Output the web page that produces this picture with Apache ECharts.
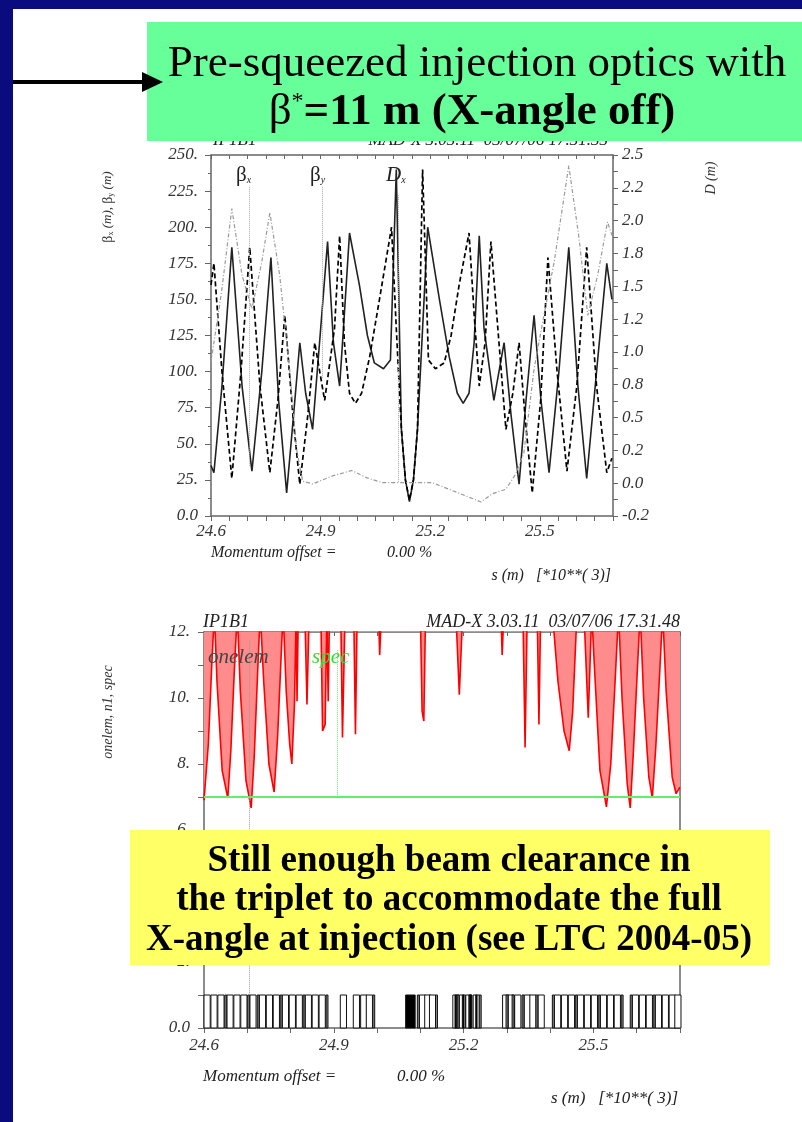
<!DOCTYPE html>
<html>
<head>
<meta charset="utf-8">
<script src="https://cdn.jsdelivr.net/npm/echarts@6/dist/echarts.min.js"></script>
<style>
html,body{margin:0;padding:0;background:#0b0b80;}
#panel{position:absolute;left:13px;top:9px;width:789px;height:1113px;background:#fff;}
#chart{position:absolute;left:0;top:0;width:802px;height:1122px;}
</style>
</head>
<body>
<div id="panel"></div>
<div id="chart"></div>
<script>
// top plot: beta functions (m) and dispersion (m) vs s (km)
var betxS = [24.600,24.608,24.630,24.657,24.685,24.712,24.739,24.764,24.785,24.807,24.826,24.843,24.859,24.878,24.897,24.919,24.935,24.952,24.965,24.979,25.006,25.028,25.047,25.072,25.091,25.107,25.121,25.132,25.143,25.154,25.165,25.179,25.193,25.225,25.252,25.274,25.290,25.306,25.320,25.334,25.347,25.374,25.402,25.421,25.443,25.462,25.484,25.503,25.525,25.552,25.579,25.604,25.628,25.655,25.683,25.697];
var betx  = [35,30,90,186,90,31,100,179,80,16,70,120,85,60,120,190,120,90,140,196,160,125,106,102,108,240,60,25,10,25,60,130,200,150,110,85,78,85,120,194,130,80,120,70,22,80,139,80,30,100,186,90,26,100,175,150];

var betyS = [24.600,24.608,24.630,24.657,24.682,24.706,24.734,24.761,24.783,24.802,24.824,24.843,24.865,24.884,24.911,24.938,24.952,24.965,24.979,24.995,25.012,25.034,25.061,25.094,25.107,25.121,25.132,25.143,25.154,25.165,25.179,25.195,25.214,25.238,25.257,25.279,25.306,25.320,25.334,25.350,25.366,25.388,25.407,25.426,25.443,25.459,25.479,25.502,25.522,25.547,25.574,25.601,25.628,25.655,25.683,25.697];
var bety  = [160,175,100,26,100,186,90,30,80,139,70,22,70,120,80,130,194,120,85,78,85,110,150,200,130,60,25,11,25,60,240,108,102,106,125,160,196,140,90,120,190,120,60,85,120,70,16,80,179,100,31,90,186,90,30,40];

var dxS = [24.600,24.630,24.657,24.685,24.712,24.739,24.761,24.788,24.815,24.834,24.851,24.878,24.933,24.985,25.027,25.068,25.117,25.205,25.279,25.339,25.369,25.407,25.434,25.456,25.484,25.511,25.539,25.579,25.606,25.631,25.658,25.685,25.697];
var dx  = [0.95,1.5,2.10,1.6,1.35,1.7,2.07,1.6,0.9,0.3,0.06,0.04,0.10,0.14,0.085,0.05,0.05,0.05,-0.03,-0.095,-0.035,0.0,0.115,0.27,0.9,1.3,1.7,2.42,1.9,1.3,1.6,2.0,1.9];

var sTickLabels = [24.6, 24.9, 25.2, 25.5];
var dLabels = ['-0.2','0.0','0.2','0.5','0.8','1.0','1.2','1.5','1.8','2.0','2.2','2.5'];

// bottom plot: aperture n1 (sigma) and spec
var n1S = [24.600,24.603,24.610,24.618,24.624,24.630,24.642,24.655,24.662,24.670,24.677,24.684,24.697,24.709,24.716,24.724,24.730,24.738,24.750,24.762,24.770,24.778,24.783,24.790,24.798,24.803,24.809,24.813,24.815,24.818,
  24.833,24.838,24.843,24.870,24.874,24.880,24.884,24.887,24.890,24.916,24.920,24.926,24.946,24.950,24.954,25.003,25.006,25.010,
  25.100,25.104,25.108,25.112,25.182,25.190,25.198,25.286,25.289,25.293,25.337,25.342,25.347,25.370,25.374,25.378,
  25.405,25.418,25.432,25.444,25.452,25.462,25.478,25.488,25.496,25.502,25.515,25.530,25.540,25.550,25.558,25.566,25.578,25.585,25.592,25.602,25.608,25.616,25.628,25.636,25.644,25.654,25.660,25.668,25.682,25.691,25.700];
var n1 = [6.9,6.85,8.6,11.0,12.6,10.5,7.8,6.97,8.4,10.8,12.6,10.2,7.5,6.67,8.2,10.8,12.6,10.5,8.0,7.15,8.8,11.2,12.6,10.2,8.6,8.0,9.8,12.6,9.9,12.6,
  12.6,9.8,12.6,12.6,9.0,9.2,12.6,9.9,12.6,12.6,8.8,12.6,12.6,8.9,12.6,12.6,11.3,12.6,
  12.6,9.6,9.3,12.6,12.6,10.1,12.6,12.6,11.3,12.6,12.6,8.5,12.6,12.6,9.2,12.6,
  12.6,10.5,9.0,8.4,9.6,12.6,12.6,9.4,12.6,11.0,7.8,6.7,8.0,10.5,12.6,10.0,7.4,6.67,8.3,11.0,12.6,10.0,7.6,6.97,8.5,11.0,12.6,10.2,7.6,7.1,7.3];
var specValue = 7.0;

// machine elements drawn along the bottom
var dipoleLen = 0.0143, quadLen = 0.0045;
var dipoleS = [24.600,24.616,24.632,24.653,24.669,24.685,24.706,24.728,24.744,24.760,24.781,24.797,24.813,24.834,24.850,24.866,
  24.915,24.945,24.962,24.975,25.098,25.110,25.121,25.175,25.190,25.205,25.222,25.290,25.303,25.318,25.340,25.353,25.372,
  25.410,25.426,25.442,25.463,25.479,25.495,25.516,25.532,25.548,25.590,25.606,25.622,25.643,25.659,25.675,25.688];
var quadS = [24.648,24.701,24.723,24.776,24.829,24.882,24.990,25.093,25.135,25.185,25.212,25.236,25.298,25.312,25.335,25.367,25.405,25.458,25.511,25.564,25.585,25.638];
var blackS = [[25.066,25.088],[25.180,25.184],[25.197,25.201],[25.214,25.218],[25.228,25.231]];

function pairs(xs, ys) { return xs.map(function (x, i) { return [x, ys[i]]; }); }

var elemData = [];
dipoleS.forEach(function (s) { elemData.push([s, s + dipoleLen, 0]); });
quadS.forEach(function (s) { elemData.push([s, s + quadLen, 1]); });
blackS.forEach(function (b) { elemData.push([b[0], b[1], 2]); });
var elemFill = ['#ffffff', '#8a8a8a', '#000000'];

var dTickVals = dLabels.map(function (l, i) { return -0.2 + i * 2.7 / 11; });
var dMinor = [];
for (var i = 0; i < 22; i++) dMinor.push(-0.2 + i * 2.7 / 22);
dMinor.push(2.5);

var lab = { fontFamily: 'Liberation Serif', fontStyle: 'italic', fontSize: 17, color: '#333' };
var axLine = { show: true, onZero: false, lineStyle: { color: '#666', width: 1.5 } };

var myChart = echarts.init(document.getElementById('chart'));
var option = {
  animation: false,
  backgroundColor: 'transparent',
  grid: [
    { left: 211, top: 155, width: 402, height: 361 },
    { left: 204, top: 632, width: 476, height: 396 }
  ],
  xAxis: [
    { gridIndex: 0, type: 'value', min: 24.6, max: 25.7, interval: 0.05, axisLine: axLine,
      axisTick: { length: 5, lineStyle: { color: '#666' } }, splitLine: { show: false },
      axisLabel: Object.assign({ customValues: sTickLabels, margin: 7, formatter: function (v) { return v.toFixed(1); } }, lab) },
    { gridIndex: 0, type: 'value', position: 'top', min: 24.6, max: 25.7, interval: 0.05, axisLine: axLine,
      axisTick: { inside: true, length: 4, lineStyle: { color: '#666' } }, axisLabel: { show: false }, splitLine: { show: false } },
    { gridIndex: 1, type: 'value', min: 24.6, max: 25.7, interval: 0.1, axisLine: axLine,
      axisTick: { length: 5, lineStyle: { color: '#666' } }, splitLine: { show: false },
      axisLabel: Object.assign({ customValues: sTickLabels, margin: 9, formatter: function (v) { return v.toFixed(1); } }, lab) },
    { gridIndex: 1, type: 'value', position: 'top', min: 24.6, max: 25.7, interval: 0.1, axisLine: axLine,
      axisTick: { inside: true, length: 4, lineStyle: { color: '#666' } }, axisLabel: { show: false }, splitLine: { show: false } }
  ],
  yAxis: [
    { gridIndex: 0, type: 'value', min: 0, max: 250, interval: 25, axisLine: axLine,
      axisTick: { length: 6, lineStyle: { color: '#666' } },
      minorTick: { show: true, splitNumber: 2, length: 3, lineStyle: { color: '#666' } },
      splitLine: { show: false }, minorSplitLine: { show: false },
      axisLabel: Object.assign({ margin: 13, formatter: function (v) { return v === 0 ? '0.0' : v + '.'; } }, lab) },
    { gridIndex: 0, type: 'value', position: 'right', min: -0.2, max: 2.5, axisLine: axLine,
      axisTick: { customValues: dMinor, length: 5, lineStyle: { color: '#666' } },
      splitLine: { show: false },
      axisLabel: Object.assign({ customValues: dTickVals, margin: 9, formatter: function (v) {
        var k = 0, best = 1e9;
        dTickVals.forEach(function (t, j) { if (Math.abs(t - v) < best) { best = Math.abs(t - v); k = j; } });
        return dLabels[k];
      } }, lab) },
    { gridIndex: 1, type: 'value', min: 0, max: 12, interval: 1, axisLine: axLine,
      axisTick: { length: 6, lineStyle: { color: '#666' } }, splitLine: { show: false },
      axisLabel: Object.assign({ margin: 14, formatter: function (v) {
        if (v % 2) return '';
        return v === 0 ? '0.0' : v + '.';
      } }, lab) },
    { gridIndex: 1, type: 'value', position: 'right', min: 0, max: 12, interval: 1, axisLine: axLine,
      axisTick: { inside: true, length: 5, lineStyle: { color: '#666' } }, axisLabel: { show: false }, splitLine: { show: false } }
  ],
  series: [
    { name: 'betx', type: 'line', xAxisIndex: 0, yAxisIndex: 0, data: pairs(betxS, betx), symbol: 'none',
      lineStyle: { color: '#222', width: 1.6 },
      markLine: { silent: true, symbol: 'none', label: { show: false },
        lineStyle: { color: '#aaa', type: 'dotted', width: 1 },
        data: [[{ coord: [24.704, 228] }, { coord: [24.704, 34] }], [{ coord: [24.905, 228] }, { coord: [24.905, 95] }]] } },
    { name: 'bety', type: 'line', xAxisIndex: 0, yAxisIndex: 0, data: pairs(betyS, bety), symbol: 'none',
      lineStyle: { color: '#000', width: 1.7, type: [5, 3] } },
    { name: 'dx', type: 'line', xAxisIndex: 0, yAxisIndex: 1, data: pairs(dxS, dx), symbol: 'none',
      lineStyle: { color: '#9a9a9a', width: 1.2, type: [4, 2, 1, 2] },
      markLine: { silent: true, symbol: 'none', label: { show: false },
        lineStyle: { color: '#aaa', type: 'dotted', width: 1 },
        data: [[{ coord: [25.113, 2.2] }, { coord: [25.113, 0.05] }]] } },
    { name: 'n1', type: 'line', xAxisIndex: 2, yAxisIndex: 2, data: pairs(n1S, n1), symbol: 'none',
      lineStyle: { color: '#ff0000', width: 1.6 },
      areaStyle: { origin: 'end', color: '#ff8c8c', opacity: 1 },
      markLine: { silent: true, symbol: 'none', label: { show: false },
        lineStyle: { color: '#999', type: 'dotted', width: 1 },
        data: [[{ coord: [24.704, 11.75] }, { coord: [24.704, 1.0] }]] } },
    { name: 'spec', type: 'line', xAxisIndex: 2, yAxisIndex: 2, data: [[24.6, specValue], [25.7, specValue]], symbol: 'none',
      lineStyle: { color: '#66ee66', width: 1.8 },
      markLine: { silent: true, symbol: 'none', label: { show: false },
        lineStyle: { color: '#66ee66', type: 'dotted', width: 1 },
        data: [[{ coord: [24.907, 11.45] }, { coord: [24.907, specValue] }]] } },
    { name: 'elements', type: 'custom', xAxisIndex: 2, yAxisIndex: 2, data: elemData, encode: { x: [0, 1] },
      renderItem: function (params, api) {
        var a = api.coord([api.value(0), 0]);
        var b = api.coord([api.value(1), 1]);
        return { type: 'rect', shape: { x: a[0], y: b[1], width: Math.max(b[0] - a[0], 1), height: a[1] - b[1] },
          style: { fill: elemFill[api.value(2)], stroke: '#111', lineWidth: 1 } };
      } }
  ],
  graphic: [
    // headers of the two MAD-X plots
    { type: 'text', x: 213, y: 149, z: 50, style: { text: 'IP1B1', fontFamily: 'Liberation Serif', fontStyle: 'italic', fontSize: 17, fill: '#222', verticalAlign: 'bottom' } },
    { type: 'text', x: 608, y: 149, z: 50, style: { text: 'MAD-X 3.03.11  03/07/06 17.31.33', fontFamily: 'Liberation Serif', fontStyle: 'italic', fontSize: 17, fill: '#222', align: 'right', verticalAlign: 'bottom' } },
    { type: 'text', x: 203, y: 622, z: 50, style: { text: 'IP1B1', fontFamily: 'Liberation Serif', fontStyle: 'italic', fontSize: 18, fill: '#222', verticalAlign: 'middle' } },
    { type: 'text', x: 680, y: 622, z: 50, style: { text: 'MAD-X 3.03.11  03/07/06 17.31.48', fontFamily: 'Liberation Serif', fontStyle: 'italic', fontSize: 18, fill: '#222', align: 'right', verticalAlign: 'middle' } },
    // curve labels
    { type: 'text', x: 236, y: 175, z: 50, style: { text: '{g|β}{s|x}', rich: { g: { fontFamily: 'Liberation Serif', fontSize: 21, fill: '#222' }, s: { fontFamily: 'Liberation Serif', fontStyle: 'italic', fontSize: 10, fill: '#222', verticalAlign: 'bottom' } }, verticalAlign: 'middle' } },
    { type: 'text', x: 310, y: 175, z: 50, style: { text: '{g|β}{s|y}', rich: { g: { fontFamily: 'Liberation Serif', fontSize: 21, fill: '#222' }, s: { fontFamily: 'Liberation Serif', fontStyle: 'italic', fontSize: 10, fill: '#222', verticalAlign: 'bottom' } }, verticalAlign: 'middle' } },
    { type: 'text', x: 386, y: 175, z: 50, style: { text: '{g|D}{s|x}', rich: { g: { fontFamily: 'Liberation Serif', fontStyle: 'italic', fontSize: 21, fill: '#222' }, s: { fontFamily: 'Liberation Serif', fontStyle: 'italic', fontSize: 10, fill: '#222', verticalAlign: 'bottom' } }, verticalAlign: 'middle' } },
    { type: 'text', x: 208, y: 657, z: 50, style: { text: 'onelem', fontFamily: 'Liberation Serif', fontStyle: 'italic', fontSize: 21, fill: '#444', verticalAlign: 'middle' } },
    { type: 'text', x: 312, y: 657, z: 50, style: { text: 'spec', fontFamily: 'Liberation Serif', fontStyle: 'italic', fontSize: 21, fill: '#33dd33', verticalAlign: 'middle' } },
    // axis names
    { type: 'text', x: 108, y: 207, rotation: Math.PI / 2, z: 50, style: { text: '{g|β}{s|x}{t| (m), }{g|β}{s|y}{t| (m)}', align: 'center', verticalAlign: 'middle',
      rich: { g: { fontFamily: 'Liberation Serif', fontSize: 14, fill: '#333' }, s: { fontFamily: 'Liberation Serif', fontSize: 8, fill: '#333', verticalAlign: 'bottom' }, t: { fontFamily: 'Liberation Serif', fontStyle: 'italic', fontSize: 13, fill: '#333' } } } },
    { type: 'text', x: 711, y: 178, rotation: Math.PI / 2, z: 50, style: { text: 'D (m)', fontFamily: 'Liberation Serif', fontStyle: 'italic', fontSize: 14, fill: '#333', align: 'center', verticalAlign: 'middle' } },
    { type: 'text', x: 108, y: 712, rotation: Math.PI / 2, z: 50, style: { text: 'onelem, n1, spec', fontFamily: 'Liberation Serif', fontStyle: 'italic', fontSize: 14, fill: '#333', align: 'center', verticalAlign: 'middle' } },
    // momentum offset / s labels
    { type: 'text', x: 211, y: 553, z: 50, style: { text: 'Momentum offset =', fontFamily: 'Liberation Serif', fontStyle: 'italic', fontSize: 16, fill: '#222', verticalAlign: 'middle' } },
    { type: 'text', x: 387, y: 553, z: 50, style: { text: '0.00 %', fontFamily: 'Liberation Serif', fontStyle: 'italic', fontSize: 16, fill: '#222', verticalAlign: 'middle' } },
    { type: 'text', x: 611, y: 576, z: 50, style: { text: 's (m)   [*10**( 3)]', fontFamily: 'Liberation Serif', fontStyle: 'italic', fontSize: 16, fill: '#222', align: 'right', verticalAlign: 'middle' } },
    { type: 'text', x: 203, y: 1077, z: 50, style: { text: 'Momentum offset =', fontFamily: 'Liberation Serif', fontStyle: 'italic', fontSize: 17, fill: '#222', verticalAlign: 'middle' } },
    { type: 'text', x: 397, y: 1077, z: 50, style: { text: '0.00 %', fontFamily: 'Liberation Serif', fontStyle: 'italic', fontSize: 17, fill: '#222', verticalAlign: 'middle' } },
    { type: 'text', x: 678, y: 1099, z: 50, style: { text: 's (m)   [*10**( 3)]', fontFamily: 'Liberation Serif', fontStyle: 'italic', fontSize: 17, fill: '#222', align: 'right', verticalAlign: 'middle' } },
    // green title box with arrow
    { type: 'rect', z: 100, shape: { x: 147, y: 22, width: 655, height: 119 }, style: { fill: '#66ff99' } },
    { type: 'line', z: 101, shape: { x1: 13, y1: 82, x2: 146, y2: 82 }, style: { stroke: '#000', lineWidth: 4 } },
    { type: 'polygon', z: 101, shape: { points: [[142, 72], [163, 82], [142, 92]] }, style: { fill: '#000' } },
    { type: 'text', z: 102, x: 477, y: 64, style: { text: 'Pre-squeezed injection optics with', fontFamily: 'Liberation Serif', fontSize: 45, fill: '#000', align: 'center', verticalAlign: 'middle' } },
    { type: 'text', z: 102, x: 472, y: 112, style: { text: '{g|β}{u|*}{t|=11 m (X-angle off)}', align: 'center', verticalAlign: 'middle',
      rich: { g: { fontFamily: 'Liberation Serif', fontSize: 45, fill: '#000' }, u: { fontFamily: 'Liberation Serif', fontSize: 24, fill: '#000', verticalAlign: 'top' }, t: { fontFamily: 'Liberation Serif', fontWeight: 'bold', fontSize: 45, fill: '#000' } } } },
    // yellow comment box
    { type: 'rect', z: 100, shape: { x: 130, y: 830, width: 640, height: 135 }, style: { fill: '#ffff66' } },
    { type: 'text', z: 102, x: 449, y: 861, style: { text: 'Still enough beam clearance in', fontFamily: 'Liberation Serif', fontWeight: 'bold', fontSize: 37, fill: '#000', align: 'center', verticalAlign: 'middle' } },
    { type: 'text', z: 102, x: 449, y: 900, style: { text: 'the triplet to accommodate the full', fontFamily: 'Liberation Serif', fontWeight: 'bold', fontSize: 37, fill: '#000', align: 'center', verticalAlign: 'middle' } },
    { type: 'text', z: 102, x: 449, y: 940, style: { text: 'X-angle at injection (see LTC 2004-05)', fontFamily: 'Liberation Serif', fontWeight: 'bold', fontSize: 37, fill: '#000', align: 'center', verticalAlign: 'middle' } }
  ]
};
myChart.setOption(option);
</script>
</body>
</html>
